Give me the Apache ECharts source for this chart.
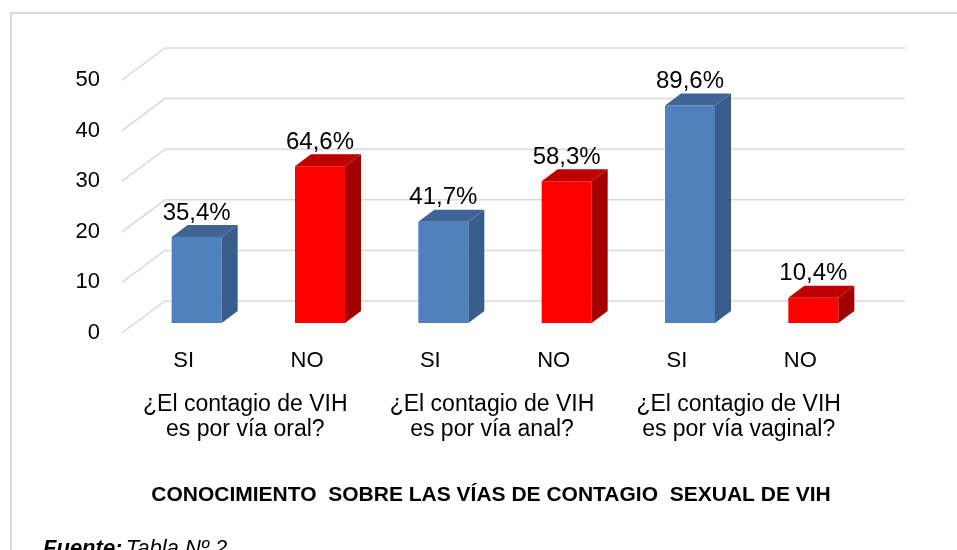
<!DOCTYPE html>
<html>
<head>
<meta charset="utf-8">
<script src="https://cdn.jsdelivr.net/npm/echarts@6/dist/echarts.min.js"></script>
<style>
  html, body { margin: 0; padding: 0; background: #fff; }
  #chart { width: 957px; height: 550px; }
</style>
</head>
<body>
<div id="chart"></div>
<script>
// datos del grafico
var categorias = ['SI', 'NO', 'SI', 'NO', 'SI', 'NO'];
var grupos = ['¿El contagio de VIH\nes por vía oral?', '¿El contagio de VIH\nes por vía anal?', '¿El contagio de VIH\nes por vía vaginal?'];
var valores = [17, 31, 20, 28, 43, 5];
var porcentajes = ['35,4%', '64,6%', '41,7%', '58,3%', '89,6%', '10,4%'];
var ticks = [0, 10, 20, 30, 40, 50];

var FONT = "'Liberation Sans', Arial, sans-serif";
var azul = ['#4f81bd', '#385d8a', '#3f6596'];
var rojo = ['#ff0000', '#a30000', '#c00000'];

var myChart = echarts.init(document.getElementById('chart'));

var option = {
    animation: false,
    backgroundColor: '#fff',
    grid: { left: 122, right: 95, top: 80, bottom: 217 },
    xAxis: [
        {
            type: 'category',
            data: categorias,
            axisLine: { show: false },
            axisTick: { show: false },
            axisLabel: { interval: 0, margin: 17, fontSize: 22, color: '#000', fontFamily: FONT }
        },
        {
            type: 'category',
            data: grupos,
            position: 'bottom',
            offset: 0,
            axisLine: { show: false },
            axisTick: { show: false },
            axisLabel: { interval: 0, hideOverlap: false, margin: 59, fontSize: 23, lineHeight: 25, color: '#000', fontFamily: FONT }
        }
    ],
    yAxis: {
        type: 'value',
        min: 0,
        max: 50,
        interval: 10,
        axisLine: { show: false },
        axisTick: { show: false },
        splitLine: { show: false },
        axisLabel: { margin: 22, fontSize: 22, color: '#000', fontFamily: FONT }
    },
    graphic: [
        {
            type: 'rect',
            shape: { x: 11, y: 13, width: 960, height: 560 },
            style: { fill: 'none', stroke: '#d9d9d9', lineWidth: 2 },
            silent: true
        },
        {
            type: 'text',
            x: 491, y: 495,
            style: {
                text: 'CONOCIMIENTO  SOBRE LAS VÍAS DE CONTAGIO  SEXUAL DE VIH',
                font: 'bold 21px ' + FONT,
                fill: '#000',
                textAlign: 'center',
                textVerticalAlign: 'middle'
            }
        },
        {
            type: 'text',
            x: 43, y: 538,
            style: {
                rich: {
                    b: { font: 'italic bold 22px ' + FONT, fill: '#000' },
                    n: { font: 'italic 22px ' + FONT, fill: '#000' }
                },
                text: '{b|Fuente:} {n|Tabla Nº 2}',
                textVerticalAlign: 'top'
            }
        }
    ],
    series: [
        {
            // lineas de la cuadricula en perspectiva
            type: 'custom',
            z: 1,
            silent: true,
            clip: false,
            data: ticks.map(function (t) { return [0, t]; }),
            renderItem: function (params, api) {
                var cs = params.coordSys;
                var y = api.coord([0, api.value(1)])[1];
                return {
                    type: 'polyline',
                    shape: { points: [[cs.x, y], [cs.x + 43, y - 32], [cs.x + cs.width + 43, y - 32]] },
                    style: { stroke: '#d9d9d9', lineWidth: 1.5, fill: 'none' }
                };
            }
        },
        {
            // barras 3D
            type: 'custom',
            z: 2,
            clip: false,
            data: valores.map(function (v, i) { return [i, v]; }),
            renderItem: function (params, api) {
                var idx = api.value(0);
                var base = api.coord([idx, 0]);
                var top = api.coord([idx, api.value(1)]);
                var hw = 25, dx = 16, dy = -12;
                var cx = base[0] + 13, by = base[1] - 10, ty = top[1] - 10;
                var pal = idx % 2 === 0 ? azul : rojo;
                return {
                    type: 'group',
                    children: [
                        {
                            type: 'polygon',
                            shape: { points: [[cx - hw, by], [cx + hw, by], [cx + hw, ty], [cx - hw, ty]] },
                            style: { fill: pal[0] }
                        },
                        {
                            type: 'polygon',
                            shape: { points: [[cx + hw, by], [cx + hw + dx, by + dy], [cx + hw + dx, ty + dy], [cx + hw, ty]] },
                            style: { fill: pal[1] }
                        },
                        {
                            type: 'polygon',
                            shape: { points: [[cx - hw, ty], [cx + hw, ty], [cx + hw + dx, ty + dy], [cx - hw + dx, ty + dy]] },
                            style: { fill: pal[2] }
                        },
                        {
                            type: 'text',
                            x: cx,
                            y: ty + dy,
                            style: {
                                text: porcentajes[idx],
                                font: '24px ' + FONT,
                                fill: '#000',
                                textAlign: 'center',
                                textVerticalAlign: 'bottom'
                            }
                        }
                    ]
                };
            }
        }
    ]
};

myChart.setOption(option);
</script>
</body>
</html>
